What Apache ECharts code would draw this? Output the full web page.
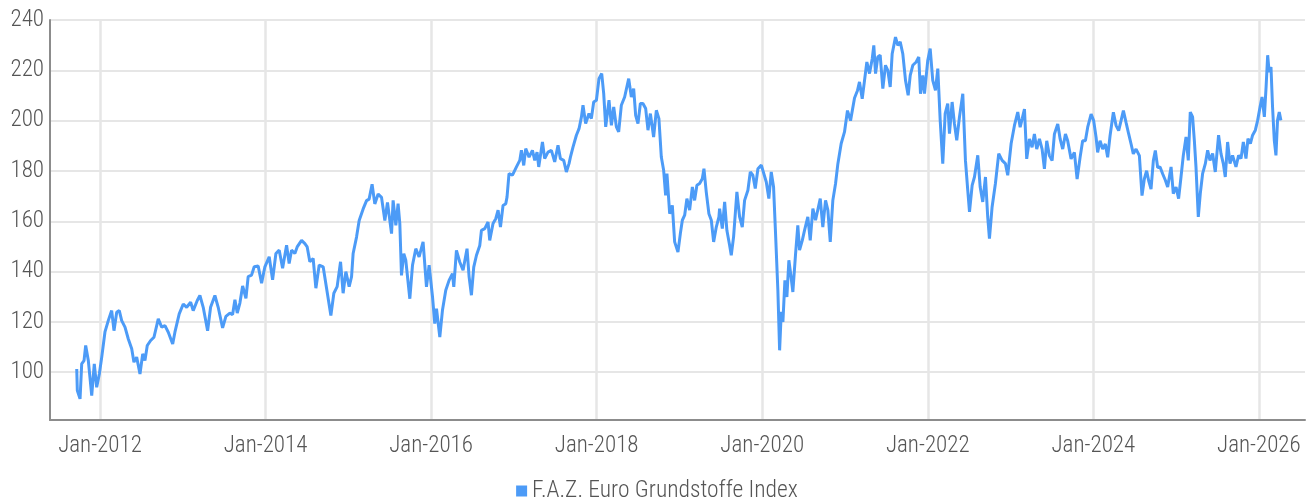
<!DOCTYPE html>
<html>
<head>
<meta charset="utf-8">
<script src="https://cdn.jsdelivr.net/npm/echarts@6/dist/echarts.min.js"></script>
<style>
  html, body { margin: 0; padding: 0; background: #fff; }
  #chart { width: 1314px; height: 501px; }
</style>
</head>
<body>
<div id="chart"></div>
<script>
// time as decimal years
var timeYears = [
  2011.719, 2011.726, 2011.759, 2011.779, 2011.807, 2011.827, 2011.859, 2011.900, 2011.931, 2011.960, 2011.992,
  2012.021, 2012.060, 2012.100, 2012.141, 2012.169, 2012.202, 2012.233, 2012.262, 2012.302, 2012.342, 2012.383,
  2012.410, 2012.443, 2012.483, 2012.516, 2012.543, 2012.571, 2012.612, 2012.652, 2012.704, 2012.745, 2012.785,
  2012.825, 2012.878, 2012.905, 2012.957, 2013.006, 2013.047, 2013.095, 2013.126, 2013.175, 2013.207, 2013.247,
  2013.300, 2013.336, 2013.388, 2013.428,
  2013.481, 2013.521, 2013.569, 2013.602, 2013.630, 2013.658, 2013.690, 2013.723, 2013.763, 2013.790, 2013.831,
  2013.863, 2013.911, 2013.952, 2013.992, 2014.044, 2014.085, 2014.125, 2014.165, 2014.206, 2014.254, 2014.285,
  2014.314, 2014.354, 2014.382, 2014.435, 2014.475, 2014.503, 2014.535, 2014.575, 2014.608, 2014.648, 2014.696,
  2014.737, 2014.789, 2014.825, 2014.865, 2014.906, 2014.937, 2014.970, 2015.010, 2015.039, 2015.058, 2015.099,
  2015.131, 2015.179, 2015.220, 2015.251, 2015.287, 2015.320, 2015.360, 2015.401, 2015.441, 2015.473,
  2015.522, 2015.541, 2015.574, 2015.601, 2015.622, 2015.642, 2015.670, 2015.694, 2015.743, 2015.775, 2015.815,
  2015.855, 2015.903, 2015.944, 2015.976, 2016.017, 2016.044, 2016.065, 2016.105, 2016.137, 2016.177, 2016.217,
  2016.258, 2016.274, 2016.306, 2016.346, 2016.386, 2016.434, 2016.459, 2016.487, 2016.515, 2016.548, 2016.588,
  2016.608, 2016.648, 2016.688, 2016.708, 2016.748, 2016.781, 2016.809, 2016.838, 2016.869, 2016.902, 2016.917,
  2016.941, 2016.983, 2017.031, 2017.071, 2017.091, 2017.119, 2017.143, 2017.183, 2017.224, 2017.252, 2017.280,
  2017.300, 2017.345, 2017.372, 2017.412, 2017.453, 2017.493, 2017.533, 2017.562, 2017.602, 2017.634, 2017.666,
  2017.683, 2017.714, 2017.755, 2017.787, 2017.816, 2017.835, 2017.867, 2017.907, 2017.936, 2017.964, 2017.997,
  2018.028, 2018.061, 2018.085, 2018.109, 2018.149, 2018.178, 2018.206, 2018.238, 2018.266, 2018.298, 2018.338,
  2018.387, 2018.419, 2018.447, 2018.471, 2018.499, 2018.528, 2018.559, 2018.592, 2018.620, 2018.649, 2018.688,
  2018.721, 2018.752, 2018.781, 2018.809, 2018.833, 2018.849, 2018.882, 2018.914, 2018.942, 2018.982, 2019.011,
  2019.035, 2019.063, 2019.090, 2019.123, 2019.156, 2019.183, 2019.211, 2019.244, 2019.276, 2019.296, 2019.324,
  2019.356, 2019.385, 2019.413, 2019.445, 2019.477,
  2019.485, 2019.518, 2019.546, 2019.573, 2019.606, 2019.626, 2019.654, 2019.694, 2019.727, 2019.759, 2019.787,
  2019.827, 2019.856, 2019.887, 2019.916, 2019.948, 2019.989, 2020.008, 2020.049, 2020.080, 2020.109, 2020.137,
  2020.161, 2020.189, 2020.210, 2020.230, 2020.250, 2020.274, 2020.298, 2020.322, 2020.346, 2020.370, 2020.403,
  2020.430, 2020.451, 2020.484, 2020.511, 2020.551, 2020.580, 2020.612, 2020.644, 2020.701, 2020.732, 2020.765,
  2020.793, 2020.822, 2020.853, 2020.886, 2020.914, 2020.954, 2020.994, 2021.030, 2021.067, 2021.115, 2021.151,
  2021.175, 2021.208, 2021.236, 2021.264, 2021.296, 2021.329, 2021.348, 2021.369, 2021.396, 2021.425, 2021.457,
  2021.489, 2021.517, 2021.546, 2021.570, 2021.610, 2021.638, 2021.667, 2021.698, 2021.731, 2021.763, 2021.788,
  2021.819, 2021.860, 2021.891, 2021.912, 2021.940, 2021.960, 2022.000, 2022.029, 2022.060, 2022.093, 2022.121,
  2022.150, 2022.181, 2022.210, 2022.241, 2022.262, 2022.294, 2022.322, 2022.350, 2022.383, 2022.423, 2022.455,
  2022.483, 2022.504, 2022.536, 2022.564, 2022.604, 2022.633, 2022.664, 2022.697, 2022.724, 2022.745, 2022.777,
  2022.817, 2022.857, 2022.898, 2022.938, 2022.966, 2023.007, 2023.047, 2023.087,
  2023.116, 2023.140, 2023.168, 2023.195, 2023.228, 2023.260, 2023.288, 2023.316, 2023.349, 2023.381, 2023.409,
  2023.437, 2023.469, 2023.502, 2023.530, 2023.570, 2023.599, 2023.630, 2023.663, 2023.690, 2023.731, 2023.771,
  2023.804, 2023.840, 2023.871, 2023.904, 2023.932, 2023.973, 2024.004, 2024.033, 2024.052, 2024.081, 2024.113,
  2024.145, 2024.173, 2024.202, 2024.242, 2024.275, 2024.306, 2024.335, 2024.363, 2024.395, 2024.427, 2024.456,
  2024.483, 2024.516, 2024.556, 2024.588, 2024.616, 2024.644, 2024.668, 2024.697, 2024.725, 2024.749, 2024.777,
  2024.806, 2024.837, 2024.870, 2024.898, 2024.939, 2024.966, 2024.999, 2025.030, 2025.059, 2025.087, 2025.120,
  2025.147, 2025.171, 2025.199, 2025.220, 2025.240, 2025.268, 2025.292, 2025.320, 2025.353, 2025.381, 2025.409,
  2025.441, 2025.473, 2025.489, 2025.513, 2025.542, 2025.570, 2025.594, 2025.622, 2025.651, 2025.682, 2025.723,
  2025.755, 2025.784, 2025.812, 2025.844, 2025.868, 2025.897, 2025.924, 2025.957, 2025.985, 2026.014, 2026.038,
  2026.066, 2026.087, 2026.106, 2026.124, 2026.146, 2026.165, 2026.186, 2026.206, 2026.225, 2026.246, 2026.266
];

var indexValues = [
  101.3, 92.7, 89.4, 103.3, 104.6, 110.6, 104.6, 90.7, 103.3, 94.0, 99.3,
  106.0, 116.0, 120.5, 124.5, 116.5, 123.8, 124.5, 120.5, 117.9, 113.2, 109.3,
  104.0, 106.0, 99.3, 107.3, 104.6, 110.6, 112.6, 113.9, 121.2, 117.9, 118.5,
  115.9, 111.2, 115.9, 123.2, 127.1, 125.8, 127.8, 124.5, 128.5, 130.5, 125.8,
  116.5, 125.8, 130.5, 125.8,
  117.6, 122.2, 123.5, 122.9, 128.8, 123.5, 127.5, 134.3, 129.4, 138.0, 138.6,
  141.9, 142.2, 135.4, 141.9, 145.9, 136.7, 147.2, 148.5, 141.3, 150.5, 143.2,
  148.5, 147.2, 149.8, 152.4, 151.1, 149.8, 143.9, 145.2, 133.4, 142.6, 141.9,
  133.4, 122.5, 131.4, 134.0, 143.9, 131.4, 140.0, 134.0, 138.0, 147.2, 153.7,
  160.3, 164.9, 168.2, 168.8, 174.7, 166.9, 170.8, 169.5, 160.3, 167.5,
  155.1, 168.3, 158.4, 167.0, 159.1, 138.5, 147.1, 144.5, 129.2, 142.5, 149.1,
  145.8, 151.8, 133.9, 142.5, 129.9, 119.3, 125.3, 114.0, 124.6, 132.6, 136.5,
  139.2, 133.9, 148.4, 143.8, 140.5, 149.1, 137.9, 130.6, 141.8, 146.5, 150.4,
  156.4, 157.1, 159.7, 152.4, 159.1, 161.0, 164.4, 157.7, 166.3, 167.0, 169.6,
  178.9, 178.3, 181.6, 184.2, 188.2, 182.2, 188.9, 185.5, 188.2, 184.2, 187.5,
  181.6, 191.5, 184.9, 187.5, 188.2, 183.6, 190.2, 184.9, 184.2, 179.6, 182.9,
  185.5, 189.5, 194.2, 196.8, 201.5, 206.1, 198.8, 202.8, 200.8, 207.4, 208.1,
  216.7, 218.7, 210.7, 197.5, 208.1, 198.1, 205.4, 197.5, 195.5, 206.1, 209.4,
  216.7, 209.4, 212.7, 202.1, 198.8, 206.8, 206.8, 204.8, 196.2, 202.8, 193.5,
  204.1, 200.8, 185.5, 180.3, 170.3, 178.9, 163.0, 166.3, 151.8, 147.8, 155.1,
  160.4, 162.4, 169.0, 164.4, 173.6, 168.3, 174.3, 175.0, 176.9, 180.9, 171.6,
  163.0, 160.4, 151.8, 157.7, 161.7,
  165.0, 157.1, 167.7, 156.4, 150.5, 146.5, 153.8, 171.7, 161.7, 157.7, 168.3,
  172.3, 179.6, 178.3, 173.0, 180.9, 182.3, 181.6, 175.6, 169.0, 179.6, 173.6,
  155.1, 132.6, 108.7, 124.0, 120.0, 136.5, 129.9, 144.5, 138.5, 131.9, 147.1,
  158.4, 148.5, 152.4, 156.4, 161.7, 152.4, 165.0, 160.4, 169.0, 157.7, 168.3,
  164.4, 151.8, 168.3, 175.0, 182.9, 190.9, 195.5, 204.0, 200.0, 209.0, 212.0,
  215.4, 208.7, 216.0, 223.3, 218.7, 224.6, 229.9, 218.7, 225.3, 226.0, 212.7,
  222.0, 220.0, 213.4, 226.6, 233.2, 229.9, 231.3, 226.6, 216.0, 210.1, 218.0,
  222.0, 223.3, 225.3, 210.7, 218.0, 210.7, 224.0, 228.6, 216.0, 212.0, 220.7,
  200.1, 182.9, 202.8, 206.8, 194.8, 207.4, 198.8, 192.2, 201.5, 210.7, 184.2,
  172.3, 163.7, 174.3, 177.6, 186.2, 173.6, 167.7, 177.6, 161.7, 153.1, 165.7,
  175.0, 186.9, 184.2, 182.9, 178.3, 190.9, 198.1, 203.4,
  197.4, 200.7, 204.6, 184.8, 192.7, 189.4, 194.7, 188.7, 192.7, 188.7, 180.8,
  192.0, 186.1, 184.1, 194.7, 198.7, 192.7, 188.7, 194.7, 192.0, 184.8, 187.4,
  176.8, 185.4, 192.0, 192.0, 197.4, 202.6, 200.0, 193.4, 187.4, 192.0, 188.7,
  190.7, 185.4, 194.0, 203.3, 198.0, 196.0, 200.0, 204.0, 199.3, 194.7, 190.7,
  186.8, 188.7, 186.1, 170.2, 176.8, 180.1, 176.2, 172.8, 184.1, 188.1, 181.4,
  181.6, 178.9, 176.3, 173.6, 181.6, 171.0, 173.6, 169.0, 177.6, 186.2, 193.5,
  184.2, 203.4, 201.5, 192.2, 181.6, 161.7, 171.0, 178.9, 182.9, 188.2, 184.2,
  186.9, 179.6, 185.5, 194.2, 186.9, 182.9, 177.6, 191.5, 182.9, 186.2, 181.6,
  186.2, 184.9, 191.5, 184.9, 192.8, 190.9, 194.2, 196.2, 200.1, 205.4, 209.4,
  201.5, 213.4, 226.0, 219.3, 221.3, 205.4, 192.2, 186.2, 200.1, 203.4, 200.1
];

var xTickYears = [2012, 2014, 2016, 2018, 2020, 2022, 2024, 2026];
var yTickValues = [100, 120, 140, 160, 180, 200, 220, 240];
var seriesName = 'F.A.Z. Euro Grundstoffe Index';

var seriesData = timeYears.map(function (t, i) { return [t, indexValues[i]]; });

var labelFont = "'Roboto Condensed', 'DejaVu Sans Condensed', sans-serif";

var myChart = echarts.init(document.getElementById('chart'), null, { renderer: 'canvas' });

var option = {
  animation: false,
  backgroundColor: '#ffffff',
  grid: { left: 50, right: 9, top: 20, bottom: 81, containLabel: false },
  legend: {
    data: [seriesName],
    top: 474,
    left: 'center',
    icon: 'rect',
    itemWidth: 11,
    itemHeight: 11,
    itemGap: 10,
    textStyle: { fontFamily: labelFont, fontWeight: 300, fontSize: 23.5, color: '#555555', padding: [0, 0, 0, 0] }
  },
  xAxis: {
    type: 'value',
    min: 2011.396,
    max: 2026.557,
    axisLine: { show: true, onZero: false, lineStyle: { color: '#8c8c8c', width: 2 } },
    axisTick: { show: false, customValues: xTickYears },
    splitLine: { show: true, lineStyle: { color: '#e6e6e6', width: 2.5 } },
    axisLabel: {
      customValues: xTickYears,
      margin: 15,
      fontFamily: labelFont,
      fontWeight: 300,
      fontSize: 23,
      color: '#555555',
      formatter: function (v) { return 'Jan-' + Math.round(v); }
    }
  },
  yAxis: {
    type: 'value',
    min: 81,
    max: 240,
    axisLine: { show: true, lineStyle: { color: '#8c8c8c', width: 2 } },
    axisTick: { show: false, customValues: yTickValues },
    splitLine: { show: true, lineStyle: { color: '#e6e6e6', width: 2 } },
    axisLabel: {
      customValues: yTickValues,
      margin: 6,
      fontFamily: labelFont,
      fontWeight: 300,
      fontSize: 23,
      color: '#555555'
    }
  },
  series: [
    {
      name: seriesName,
      type: 'line',
      data: seriesData,
      showSymbol: false,
      symbol: 'none',
      color: '#4c9bf7',
      lineStyle: { width: 3, color: '#4c9bf7' }
    }
  ]
};

myChart.setOption(option);
window.addEventListener('resize', myChart.resize);
</script>
</body>
</html>
